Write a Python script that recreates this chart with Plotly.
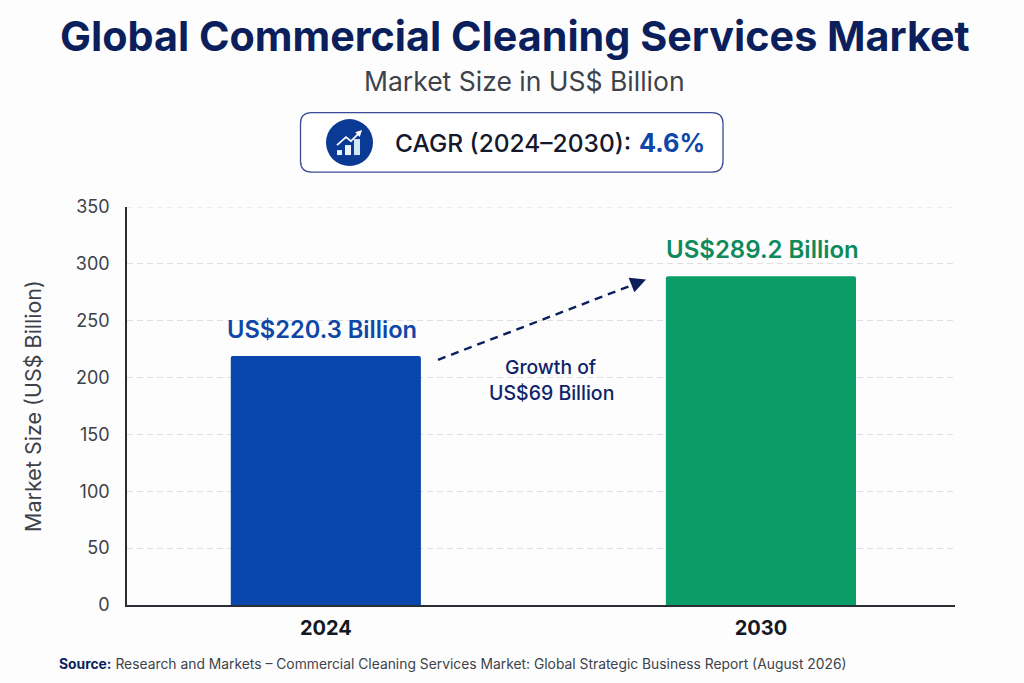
import plotly.graph_objects as go

years = ["2024", "2030"]
market_size = [219, 289]
bar_colors = ["#0A47AD", "#0A9D68"]
bar_labels = ["US$220.3 Billion", "US$289.2 Billion"]
label_colors = ["#0F47A8", "#0E8A5C"]
y_ticks = [0, 50, 100, 150, 200, 250, 300, 350]

W, H = 1024, 683
L, R, T, B = 127, 955, 207, 605.5
GRID = dict(color="#DDDFE3", width=1, dash="6px,4px")

# page pixels -> paper coords, for everything outside the plot area
def px(x):
    return (x - L) / (R - L)

def py(y):
    return (B - y) / (B - T)

def text(x, y, s, size, color, weight=400, anchor="center", angle=0):
    fig.add_annotation(x=px(x), y=py(y), xref="paper", yref="paper", text=s, showarrow=False,
                       xanchor=anchor, yanchor="middle", textangle=angle,
                       font=dict(family="Inter", size=size, color=color, weight=weight))

def box(x0, y0, x1, y1, **kw):
    fig.add_shape(type="rect", xref="paper", yref="paper", x0=px(x0), x1=px(x1), y0=py(y0), y1=py(y1), **kw)

def round_box(x0, y0, x1, y1, r, **kw):
    p = (f"M {px(x0 + r)} {py(y0)} L {px(x1 - r)} {py(y0)} Q {px(x1)} {py(y0)} {px(x1)} {py(y0 + r)} "
         f"L {px(x1)} {py(y1 - r)} Q {px(x1)} {py(y1)} {px(x1 - r)} {py(y1)} "
         f"L {px(x0 + r)} {py(y1)} Q {px(x0)} {py(y1)} {px(x0)} {py(y1 - r)} "
         f"L {px(x0)} {py(y0 + r)} Q {px(x0)} {py(y0)} {px(x0 + r)} {py(y0)} Z")
    fig.add_shape(type="path", xref="paper", yref="paper", path=p, **kw)

fig = go.Figure(go.Bar(x=years, y=market_size, width=0.437, marker_color=bar_colors,
                       marker_line_width=0, cliponaxis=False, hoverinfo="skip"))

fig.update_layout(width=W, height=H, margin=dict(l=L, r=W - R, t=T, b=H - B, pad=0),
                  paper_bgcolor="#FDFDFE", plot_bgcolor="#FDFDFE", showlegend=False,
                  barcornerradius=2, font=dict(family="Inter", color="#333A45"))
fig.update_xaxes(type="category", range=[-0.457, 1.446], ticks="", showline=True, linecolor="#2A2D33",
                 linewidth=1.5, showgrid=False, ticklabelstandoff=4,
                 tickfont=dict(family="Inter", size=20, color="#15181F", weight="bold"))
fig.update_yaxes(range=[0, 350], tickvals=y_ticks, ticks="", showline=True, linecolor="#2A2D33",
                 linewidth=1.5, gridcolor=GRID["color"], griddash=GRID["dash"], gridwidth=GRID["width"],
                 zeroline=False, ticklabelstandoff=12,
                 tickfont=dict(family="Inter", size=18, color="#3C4148"),
                 title=dict(text="Market Size (US$ Billion)", standoff=28,
                            font=dict(family="Inter", size=21.5, color="#3C4148")))

# plotly drops the gridline sitting on the top edge of the range
fig.add_shape(type="line", xref="paper", yref="y", x0=0, x1=1, y0=y_ticks[-1], y1=y_ticks[-1], line=GRID)

# value labels, set further above the bars than textposition="outside" allows
# (category position by index: a "2024" string gets read as a number here)
for i, (v, s, c, size, dx) in enumerate(zip(market_size, bar_labels, label_colors, [23.7, 24], [-4, 2])):
    fig.add_annotation(x=i, y=v, xref="x", yref="y", text=s, showarrow=False, yanchor="bottom",
                       yshift=10, xshift=dx, font=dict(family="Inter", size=size, color=c, weight=600))

text(515, 36, "Global Commercial Cleaning Services Market", 41.3, "#0B1F5C", weight=700)
text(524, 81, "Market Size in US$ Billion", 26.5, "#3E434B")

# CAGR badge
round_box(300.5, 112.5, 723, 172, 11, line=dict(color="#3A4A94", width=1.3), fillcolor="#FFFFFF", layer="below")
fig.add_shape(type="circle", xref="paper", yref="paper", x0=px(326), x1=px(373), y0=py(119), y1=py(166),
              fillcolor="#0B3A94", line_width=0)
box(337, 150, 342, 155, fillcolor="#EAF4FB", line_width=0)
box(345, 145, 351, 155, fillcolor="#EAF4FB", line_width=0)
box(354, 139, 360, 155, fillcolor="#CFE8F6", line_width=0)
fig.add_shape(type="path", xref="paper", yref="paper", line=dict(color="#FFFFFF", width=1.8),
              path=f"M {px(337)} {py(145)} L {px(346)} {py(137)} L {px(351)} {py(141)} L {px(359)} {py(133)}")
fig.add_annotation(x=px(362), y=py(130), ax=-5, ay=5, xref="paper", yref="paper",
                   axref="pixel", ayref="pixel", text="", showarrow=True, arrowhead=2, arrowsize=0.8,
                   arrowwidth=1.6, arrowcolor="#FFFFFF")
text(393, 142.5, "CAGR (2024–2030):", 24.5, "#14192B", weight=500, anchor="left")
text(637, 142.5, "4.6%", 25.3, "#0F47A8", weight=700, anchor="left")

# growth arrow
fig.add_shape(type="line", xref="paper", yref="paper", x0=px(438), y0=py(360), x1=px(634), y1=py(284.5),
              line=dict(color="#0B1F5C", width=2.4, dash="8px,6px"))
fig.add_annotation(x=px(646), y=py(279.5), ax=-14, ay=5.5, xref="paper", yref="paper",
                   axref="pixel", ayref="pixel", text="", showarrow=True, arrowhead=2, arrowsize=1.3,
                   arrowwidth=2.4, arrowcolor="#0B1F5C")
text(551, 367, "Growth of", 19.3, "#0F2468", weight=500)
text(551, 393, "US$69 Billion", 19.5, "#0F2468", weight=500)

text(57, 665, "<b style='color:#0B1F5C'>Source:</b> Research and Markets – Commercial Cleaning Services Market: Global Strategic Business Report (August 2026)",
     13.85, "#3E434B", anchor="left")

fig.write_html("out.html", config=dict(displayModeBar=False), post_script="document.body.style.margin='0';")
